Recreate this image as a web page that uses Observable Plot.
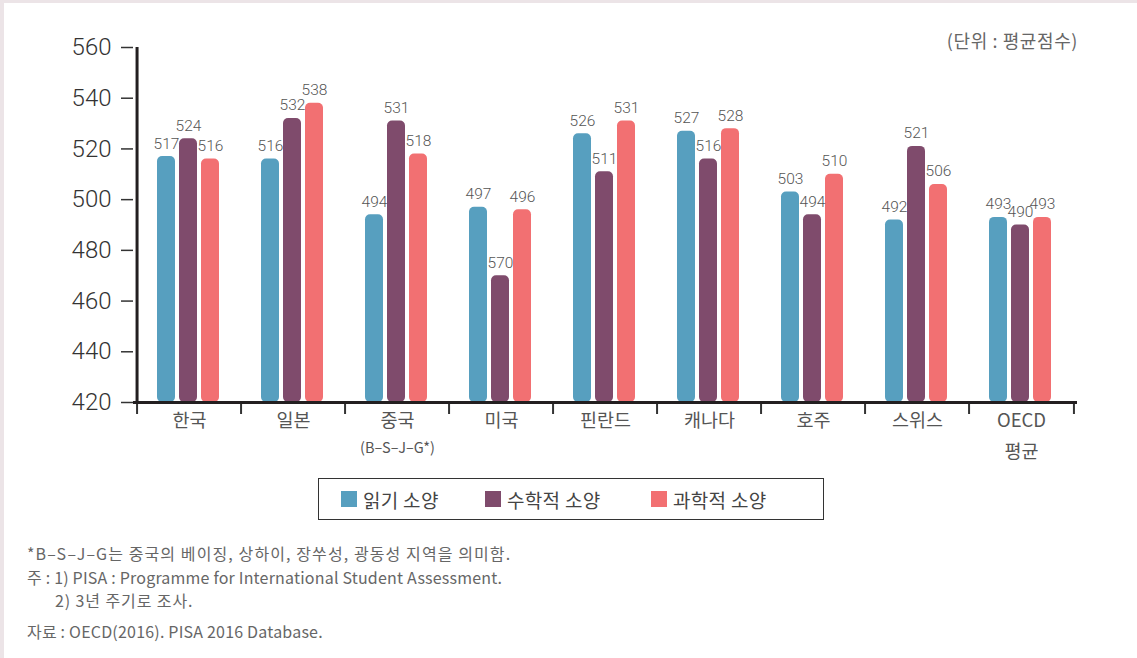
<!DOCTYPE html>
<html>
<head>
<meta charset="utf-8">
<script src="https://cdn.jsdelivr.net/npm/d3@7"></script>
<script src="https://cdn.jsdelivr.net/npm/@observablehq/plot@0.6"></script>
<style>
  html, body { margin: 0; padding: 0; background: #ffffff; }
  #page { position: relative; width: 1137px; height: 658px; overflow: hidden; background: #fff; font-family: "Noto Sans CJK KR", "Noto Sans", sans-serif; }
  .edge-top { position: absolute; left: 0; top: 0; width: 1137px; height: 3px; background: #ece4e7; }
  .edge-left { position: absolute; left: 0; top: 0; width: 4px; height: 658px; background: #ece4e7; }
  #chart { position: absolute; left: 0; top: 0; }
  #unit { position: absolute; right: 59px; top: 27px; font-size: 18px; color: #666; letter-spacing: 0.6px; white-space: pre; }
  #legend { position: absolute; left: 318px; top: 478px; width: 504px; height: 40px; border: 1.5px solid #333; box-sizing: content-box; }
  .li { position: absolute; top: 0; height: 40px; display: flex; align-items: center; font-size: 19px; color: #444; letter-spacing: 0.3px; }
  .sw { width: 16px; height: 16px; margin-right: 6px; }
  .note { position: absolute; left: 27px; font-size: 16px; color: #666; white-space: nowrap; }
</style>
</head>
<body>
<div id="page">
  <div id="chart"></div>
  <div class="edge-top"></div>
  <div class="edge-left"></div>
  <div id="unit"></div>
  <div id="legend"></div>
  <div id="notes"></div>
</div>
<script>
// ---- data ----
const countries = ["한국", "일본", "중국", "미국", "핀란드", "캐나다", "호주", "스위스", "OECD 평균"];
const catLine1 = ["한국", "일본", "중국", "미국", "핀란드", "캐나다", "호주", "스위스", "OECD"];
const catLine2 = ["", "", "", "", "", "", "", "", "평균"];
const catNote = ["", "", "(B–S–J–G*)", "", "", "", "", "", ""];
const seriesNames = ["읽기 소양", "수학적 소양", "과학적 소양"];
const reading = [517, 516, 494, 497, 526, 527, 503, 492, 493];
const math = [524, 532, 531, 470, 511, 516, 494, 521, 490];
const science = [516, 538, 518, 496, 531, 528, 510, 506, 493];
const readingLabels = ["517", "516", "494", "497", "526", "527", "503", "492", "493"];
const mathLabels = ["524", "532", "531", "570", "511", "516", "494", "521", "490"];
const scienceLabels = ["516", "538", "518", "496", "531", "528", "510", "506", "493"];
const yTicks = [420, 440, 460, 480, 500, 520, 540, 560];
const unitText = "(단위 : 평균점수)";
const notes = [
  "*B–S–J–G는 중국의 베이징, 상하이, 장쑤성, 광동성 지역을 의미함.",
  "주 : 1) PISA : Programme for International Student Assessment.",
  "2) 3년 주기로 조사.",
  "자료 : OECD(2016). PISA 2016 Database."
];
const colors = ["#579fbf", "#7f4b6c", "#f27072"];

// ---- chart ----
const W = 1137, ML = 133, MR = 60;
const bw = (W - ML - MR) / countries.length;
const numFont = "Roboto, 'DejaVu Sans', sans-serif";
const krFont = "'Noto Sans CJK KR', 'Noto Sans', sans-serif";

const series = [
  {values: reading, labels: readingLabels, color: colors[0], inL: 20, inR: 66, dx: -23},
  {values: math, labels: mathLabels, color: colors[1], inL: 42, inR: 44, dx: -1},
  {values: science, labels: scienceLabels, color: colors[2], inL: 64, inR: 22, dx: 21}
];

const marks = [];
for (const s of series) {
  marks.push(Plot.barY(countries, {
    x: d => d, y1: 420, y2: (d, i) => s.values[i],
    fill: s.color, insetLeft: s.inL, insetRight: s.inR, rx: 5
  }));
}
for (const s of series) {
  marks.push(Plot.text(countries, {
    x: d => d, y: (d, i) => s.values[i], text: (d, i) => s.labels[i],
    dx: s.dx, dy: -13, fontSize: 15.5, fill: "#555", fontFamily: numFont, fontWeight: 300,
    letterSpacing: "-0.9px"
  }));
}
marks.push(
  Plot.axisY({ticks: yTicks, tickSize: 12, tickPadding: 10, fontSize: 24, color: "#333", fontFamily: numFont, fontWeight: 300, label: null, strokeWidth: 1.5}),
  Plot.axisX({ticks: countries, tickSize: 12, tickFormat: () => "", dx: -bw / 2, color: "#333", strokeWidth: 2, label: null}),
  Plot.axisX({ticks: [countries[countries.length - 1]], tickSize: 12, tickFormat: () => "", dx: bw / 2, color: "#333", strokeWidth: 2, label: null}),
  Plot.ruleY([420], {stroke: "#231f20", strokeWidth: 3}),
  Plot.ruleX([countries[0]], {y1: 420, y2: 560, dx: -bw / 2, stroke: "#231f20", strokeWidth: 3}),
  Plot.text(countries, {x: d => d, text: (d, i) => catLine1[i], frameAnchor: "bottom", dy: 24, fontSize: 18.5, fill: "#555", fontFamily: krFont}),
  Plot.text(countries, {x: d => d, text: (d, i) => catLine2[i], frameAnchor: "bottom", dy: 55, fontSize: 18.5, fill: "#555", fontFamily: krFont}),
  Plot.text(countries, {x: d => d, text: (d, i) => catNote[i], frameAnchor: "bottom", dy: 50, fontSize: 14.5, fill: "#555", fontFamily: krFont, letterSpacing: "-0.3px"})
);

const chart = Plot.plot({
  width: W, height: 480,
  marginLeft: ML, marginRight: MR, marginTop: 47, marginBottom: 78,
  x: {domain: countries, padding: 0, axis: null},
  y: {domain: [420, 560], axis: null},
  style: {background: "transparent", fontFamily: krFont, overflow: "visible"},
  marks
});
document.getElementById("chart").appendChild(chart);

// unit
document.getElementById("unit").textContent = unitText;

// legend
const legend = document.getElementById("legend");
const legendX = [22, 166, 332];
seriesNames.forEach((name, i) => {
  const item = document.createElement("div");
  item.className = "li";
  item.style.left = legendX[i] + "px";
  const sw = document.createElement("div");
  sw.className = "sw";
  sw.style.background = colors[i];
  item.appendChild(sw);
  item.appendChild(document.createTextNode(name));
  legend.appendChild(item);
});

// notes
const notesEl = document.getElementById("notes");
const noteTops = [541, 565, 588, 619];
const noteIndent = [0, 0, 28, 0];
const noteSpacing = [1.1, 0.2, 0.9, 0.2];
notes.forEach((t, i) => {
  const n = document.createElement("div");
  n.className = "note";
  n.style.top = noteTops[i] + "px";
  n.style.left = (27 + noteIndent[i]) + "px";
  n.style.letterSpacing = noteSpacing[i] + "px";
  n.textContent = t;
  notesEl.appendChild(n);
});
</script>
</body>
</html>
